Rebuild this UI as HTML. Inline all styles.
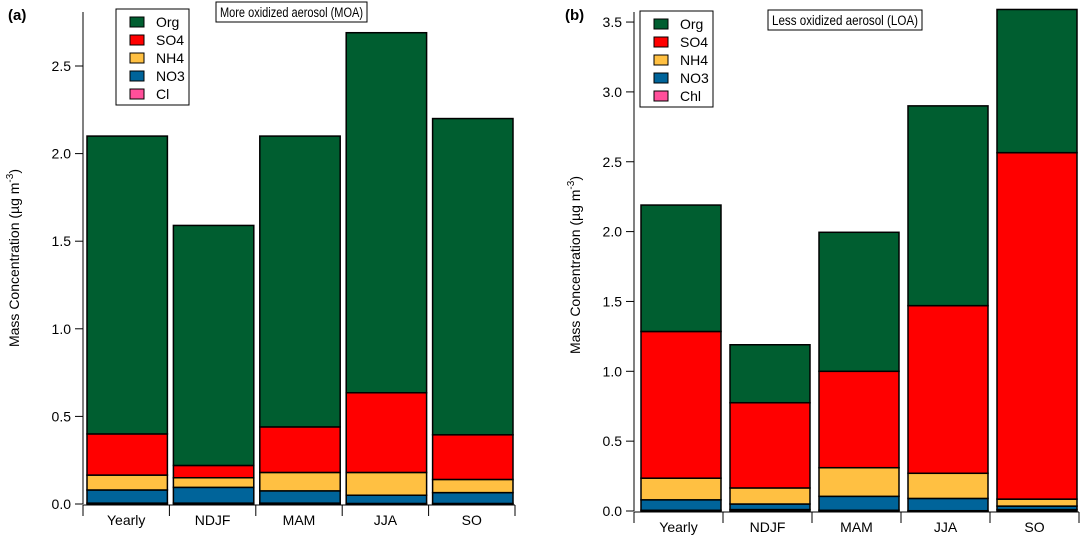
<!DOCTYPE html>
<html><head><meta charset="utf-8"><style>
html,body{margin:0;padding:0;background:#fff;}
svg{display:block;font-family:"Liberation Sans",Arial,sans-serif;}
</style></head><body>
<svg id="chart" width="1089" height="536" xmlns="http://www.w3.org/2000/svg"></svg>
<script>
const categories = ["Yearly","NDJF","MAM","JJA","SO"];
const species = ["Cl","NO3","NH4","SO4","Org"];
const colors = {Cl:"#ff4f9a",NO3:"#00649a",NH4:"#ffc042",SO4:"#ff0000",Org:"#005e30"};
// Panel a (MOA)
const moaCl  = [0.005,0.005,0.005,0.003,0.003];
const moaNO3 = [0.075,0.09,0.07,0.047,0.062];
const moaNH4 = [0.085,0.055,0.105,0.13,0.075];
const moaSO4 = [0.235,0.07,0.26,0.455,0.255];
const moaOrg = [1.70,1.37,1.66,2.055,1.805];
const moaTicks = [0.0,0.5,1.0,1.5,2.0,2.5];
// Panel b (LOA)
const loaCl  = [0.005,0.01,0.005,0.002,0.01];
const loaNO3 = [0.075,0.04,0.10,0.088,0.025];
const loaNH4 = [0.155,0.115,0.205,0.18,0.05];
const loaSO4 = [1.05,0.61,0.69,1.20,2.48];
const loaOrg = [0.905,0.415,0.995,1.43,1.025];
const loaTicks = [0.0,0.5,1.0,1.5,2.0,2.5,3.0,3.5];

const svg = document.getElementById('chart');
const NS = "http://www.w3.org/2000/svg";
function mk(tag, attrs, text){
  const e = document.createElementNS(NS, tag);
  for (const k in attrs) e.setAttribute(k, attrs[k]);
  if (text !== undefined) e.textContent = text;
  svg.appendChild(e);
  return e;
}

function panel(p){
  const y = v => p.y0 - v * p.scale;
  const catW = (p.xEnd - p.x0) / categories.length;
  const x = i => p.x0 + i * catW;
  const series = [p.Cl, p.NO3, p.NH4, p.SO4, p.Org];
  categories.forEach((c, i) => {
    let base = 0;
    series.forEach((arr, s) => {
      const v = arr[i];
      const r = mk('rect', {x: x(i) + p.gapL, y: y(base + v), width: catW - p.gapL - p.gapR, height: v * p.scale,
        fill: colors[species[s]], stroke: '#000', 'stroke-width': 1.5});
      
      
      base += v;
    });
  });
  let a = mk('line', {x1: p.x0, y1: p.top, x2: p.x0, y2: p.y0, stroke: '#000', 'stroke-width': 1});
  
  
  p.ticks.forEach(t => {
    const tl = mk('line', {x1: p.x0 - 8, y1: y(t), x2: p.x0, y2: y(t), stroke: '#000'});
    
    
    const tx = mk('text', {x: p.x0 - 12, y: y(t) + 5, 'text-anchor': 'end', 'font-size': 14}, t.toFixed(1));
    
    
  });
  a = mk('line', {x1: p.x0, y1: p.y0 + 1, x2: p.xEnd, y2: p.y0 + 1, stroke: '#000'});
  
  
  for (let i = 0; i <= categories.length; i++) {
    const tl = mk('line', {x1: x(i), y1: p.y0 + 1, x2: x(i), y2: p.y0 + 12, stroke: '#000'});
    
    
  }
  categories.forEach((c, i) => {
    const tx = mk('text', {x: x(i) + catW / 2, y: p.y0 + 21, 'text-anchor': 'middle', 'font-size': 14}, c);
    
    
  });
  const yt = mk('text', {x: 0, y: 0, 'text-anchor': 'middle', 'font-size': 14,
    transform: 'translate(' + p.yTitleX + ',' + p.yTitleY + ') rotate(-90)'});
  yt.innerHTML = 'Mass Concentration (µg m<tspan dy="-6" font-size="10">-3</tspan><tspan dy="6">)</tspan>';
  
  
  const pl = mk('text', {x: p.labelX, y: 20, 'font-size': 15, 'font-weight': 'bold'}, p.label);
  
  
  const lg = mk('rect', {x: p.legX, y: p.legY, width: 73, height: 96, fill: '#fff', stroke: '#000'});
  
  
  const legOrder = ["Org","SO4","NH4","NO3","Cl"];
  legOrder.forEach((s, k) => {
    const cy = p.legY + 13 + k * 18;
    const sw = mk('rect', {x: p.legX + 14, y: cy - 5, width: 14, height: 10, fill: colors[s], stroke: '#000'});
    
    
    const lt = mk('text', {x: p.legX + 40, y: cy + 5, 'font-size': 14}, s === 'Cl' ? p.clName : s);
    
    
  });
  const tb = mk('rect', {x: p.tX, y: p.tY, width: p.tW, height: 20, fill: '#fff', stroke: '#000'});
  
  
  const tt = mk('text', {x: p.tX + 4, y: p.tY + 15, 'font-size': 13.5, textLength: p.tW - 8, lengthAdjust: 'spacingAndGlyphs'}, p.title);
  
  
}

panel({id:'moa', x0:83, xEnd:515, y0:504, top:12, scale:175.2, gapL:4, gapR:2,
  Cl:moaCl, NO3:moaNO3, NH4:moaNH4, SO4:moaSO4, Org:moaOrg, ticks:moaTicks,
  yTitleX:19, yTitleY:258, label:'(a)', labelX:8,
  legX:116, legY:9, clName:'Cl', tX:216, tY:2, tW:151, title:'More oxidized aerosol (MOA)'});
panel({id:'loa', x0:634, xEnd:1079, y0:511, top:12, scale:139.7, gapL:7, gapR:2,
  Cl:loaCl, NO3:loaNO3, NH4:loaNH4, SO4:loaSO4, Org:loaOrg, ticks:loaTicks,
  yTitleX:580, yTitleY:265, label:'(b)', labelX:565,
  legX:640, legY:11, clName:'Chl', tX:768, tY:10, tW:154, title:'Less oxidized aerosol (LOA)'});
</script>
</body></html>
